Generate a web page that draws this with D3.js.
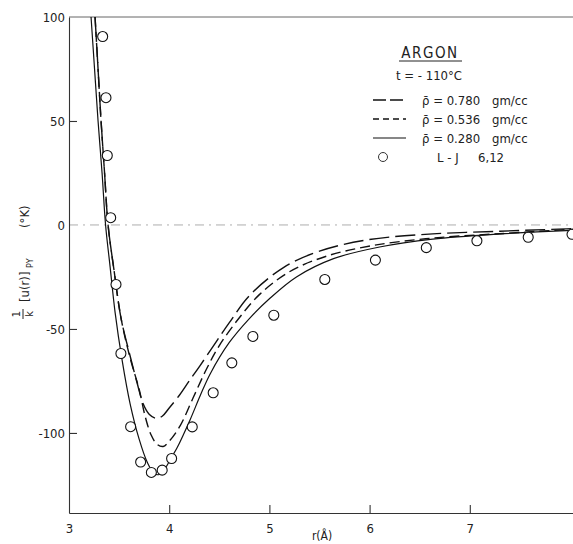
<!DOCTYPE html>
<html>
<head>
<meta charset="utf-8">
<script src="https://cdn.jsdelivr.net/npm/d3@7"></script>
<style>
  body { margin: 0; background: #fff; }
  svg { display: block; }
  text { font-family: "DejaVu Sans Condensed", "DejaVu Sans", sans-serif; fill: #222; }
</style>
</head>
<body>
<div id="chart"></div>
<script>
// Lennard-Jones 6,12 reference points
const ljR = [3.336, 3.369, 3.382, 3.416, 3.469, 3.518, 3.615, 3.715, 3.822, 3.930, 4.024,
             4.230, 4.439, 4.625, 4.835, 5.044, 5.553, 6.058, 6.566, 7.071, 7.583, 8.02];
const ljU = [90.6, 61.2, 33.4, 3.5, -28.6, -61.8, -97.0, -114.0, -119.0, -117.9, -112.3,
             -97.1, -80.7, -66.3, -53.6, -43.4, -26.2, -16.9, -10.9, -7.6, -5.9, -4.5];

// PY potential, rho = 0.780 gm/cc
const r780 = [3.26, 3.29, 3.32, 3.355, 3.39, 3.45, 3.52, 3.61, 3.68, 3.74, 3.80, 3.87, 3.93,
              4.00, 4.10, 4.20, 4.31, 4.45, 4.60, 4.80, 5.14, 5.50, 5.97, 6.63, 7.30, 7.96, 8.05];
const u780 = [100, 75, 50, 25, 0, -22, -45, -63, -76, -86, -91, -93, -92,
              -88, -82, -75, -67.5, -57.5, -47, -34, -20.5, -12.6, -7.2, -4.3, -3.0, -1.9, -1.8];

// rho = 0.536 gm/cc
const r536 = [3.26, 3.29, 3.32, 3.355, 3.39, 3.45, 3.52, 3.61, 3.70, 3.76, 3.82, 3.88, 3.94,
              4.00, 4.11, 4.24, 4.37, 4.50, 4.70, 4.90, 5.20, 5.57, 6.03, 6.63, 7.30, 7.96, 8.05];
const u536 = [100, 75, 50, 25, 0, -22, -45, -64, -79, -92, -101, -105.5, -106.5,
              -104, -96.5, -83, -69.5, -58, -44.6, -33.5, -22.5, -15.0, -9.9, -6.3, -4.2, -2.3, -2.2];

// rho = 0.280 gm/cc
const r280 = [3.22, 3.255, 3.29, 3.33, 3.365, 3.41, 3.46, 3.53, 3.61, 3.70, 3.78, 3.85, 3.90,
              3.96, 4.02, 4.08, 4.21, 4.31, 4.41, 4.60, 4.80, 5.00, 5.27, 5.64, 6.10, 6.63, 7.30, 7.96, 8.05];
const u280 = [100, 75, 50, 25, 0, -20, -42, -65, -86, -103, -114, -119.5, -120,
              -117, -112, -107, -93.5, -82, -71.5, -56.5, -45, -35.5, -25, -16.2, -10.6, -6.8, -4.3, -2.7, -2.6];

const xTicks = [3, 4, 5, 6, 7];
const yTicks = [100, 50, 0, -50, -100];
const legendLabels = ["0.780", "0.536", "0.280"];

const width = 573, height = 544;
const svg = d3.select("#chart").append("svg")
    .attr("width", width)
    .attr("height", height);

const x = d3.scaleLinear().domain([3, 8.03]).range([69, 573]);
const y = d3.scaleLinear().domain([-138.5, 100]).range([513, 17]);

svg.append("clipPath").attr("id", "plot")
    .append("rect").attr("x", 69).attr("y", 17).attr("width", 510).attr("height", 496);

// zero line, faint dash-dot
svg.append("line")
    .attr("x1", x(3)).attr("x2", width)
    .attr("y1", y(0)).attr("y2", y(0))
    .attr("stroke", "#999").attr("stroke-width", 0.8)
    .attr("stroke-dasharray", "9,5,2,5");

// frame top line
svg.append("line")
    .attr("x1", x(3)).attr("x2", width)
    .attr("y1", y(100)).attr("y2", y(100))
    .attr("stroke", "#666").attr("stroke-width", 1);

// axes
const xAxis = svg.append("g")
    .attr("transform", `translate(0,${y.range()[0]})`)
    .call(d3.axisBottom(x).tickValues(xTicks).tickSize(-8).tickPadding(11).tickSizeOuter(0)
        .tickFormat(d => String(d)));
const yAxis = svg.append("g")
    .attr("transform", `translate(${x(3)},0)`)
    .call(d3.axisLeft(y).tickValues(yTicks).tickSize(-8).tickPadding(4).tickSizeOuter(0)
        .tickFormat(d => String(d)));

[xAxis, yAxis].forEach(g => {
    g.select(".domain").attr("stroke", "#333").attr("stroke-width", 1.1);
    g.selectAll(".tick line").attr("stroke", "#333").attr("stroke-width", 1.1);
    g.selectAll(".tick text").attr("font-size", 13).attr("fill", "#222")
        .style("font-family", '"DejaVu Sans Condensed", "DejaVu Sans", sans-serif');
});
yAxis.selectAll(".tick").filter(d => d === 100 || d === 0).select("line").remove();
xAxis.selectAll(".tick").filter(d => d === 3).select("line").remove();

// curves
const line = d3.line()
    .x(d => x(d[0]))
    .y(d => y(d[1]))
    .curve(d3.curveCatmullRom.alpha(0.5));

const curves = [
    {r: r780, u: u780, dash: "20,6", w: 1.4},
    {r: r536, u: u536, dash: "10,5", w: 1.4},
    {r: r280, u: u280, dash: null, w: 1.2}
];

const plot = svg.append("g").attr("clip-path", "url(#plot)");
curves.forEach(c => {
    plot.append("path")
        .datum(c.r.map((r, i) => [r, c.u[i]]))
        .attr("d", line)
        .attr("fill", "none")
        .attr("stroke", "#111")
        .attr("stroke-width", c.w)
        .attr("stroke-dasharray", c.dash);
});

svg.append("g")
    .selectAll("circle")
    .data(ljR.map((r, i) => [r, ljU[i]]))
    .enter()
    .append("circle")
    .attr("cx", d => x(d[0]))
    .attr("cy", d => y(d[1]))
    .attr("r", 5)
    .attr("fill", "#fff")
    .attr("stroke", "#111")
    .attr("stroke-width", 1.1);

// legend
svg.append("text").attr("x", 430).attr("y", 58)
    .attr("text-anchor", "middle").attr("font-size", 15).attr("letter-spacing", 1.5)
    .text("ARGON");
svg.append("line").attr("x1", 399).attr("x2", 462).attr("y1", 61).attr("y2", 61)
    .attr("stroke", "#222").attr("stroke-width", 1);
svg.append("text").attr("x", 429).attr("y", 80)
    .attr("text-anchor", "middle").attr("font-size", 13)
    .text("t = - 110°C");

const legRows = [100, 119, 138];
curves.forEach((c, i) => {
    svg.append("line")
        .attr("x1", 373).attr("x2", 406)
        .attr("y1", legRows[i]).attr("y2", legRows[i])
        .attr("stroke", "#111").attr("stroke-width", c.w)
        .attr("stroke-dasharray", c.dash ? (i === 0 ? "13,4" : "6,4") : null);
    svg.append("text").attr("x", 422).attr("y", legRows[i] + 5).attr("font-size", 13)
        .text("ρ\u0304 = " + legendLabels[i]);
    svg.append("text").attr("x", 492).attr("y", legRows[i] + 5).attr("font-size", 13)
        .text("gm/cc");
});
svg.append("circle").attr("cx", 383).attr("cy", 157).attr("r", 4.5)
    .attr("fill", "#fff").attr("stroke", "#333").attr("stroke-width", 1);
svg.append("text").attr("x", 437).attr("y", 162).attr("font-size", 13).text("L - J");
svg.append("text").attr("x", 478).attr("y", 162).attr("font-size", 13).text("6,12");

// x title
svg.append("text").attr("x", 322).attr("y", 540)
    .attr("text-anchor", "middle").attr("font-size", 12).text("r(Å)");

// y title (rotated)
const yt = svg.append("g").attr("transform", "translate(25,258) rotate(-90)");
yt.append("text").attr("x", -56).attr("y", -5).attr("text-anchor", "middle")
    .attr("font-size", 11).text("1");
yt.append("line").attr("x1", -61).attr("x2", -51).attr("y1", -2).attr("y2", -2)
    .attr("stroke", "#222").attr("stroke-width", 1);
yt.append("text").attr("x", -56).attr("y", 8).attr("text-anchor", "middle")
    .attr("font-size", 11).text("k");
yt.append("text").attr("x", -44).attr("y", 4).attr("font-size", 13).text("[u(r)]");
yt.append("text").attr("x", -10).attr("y", 8).attr("font-size", 9).text("PY");
yt.append("text").attr("x", 30).attr("y", 4).attr("font-size", 13).text("(°K)");
</script>
</body>
</html>
